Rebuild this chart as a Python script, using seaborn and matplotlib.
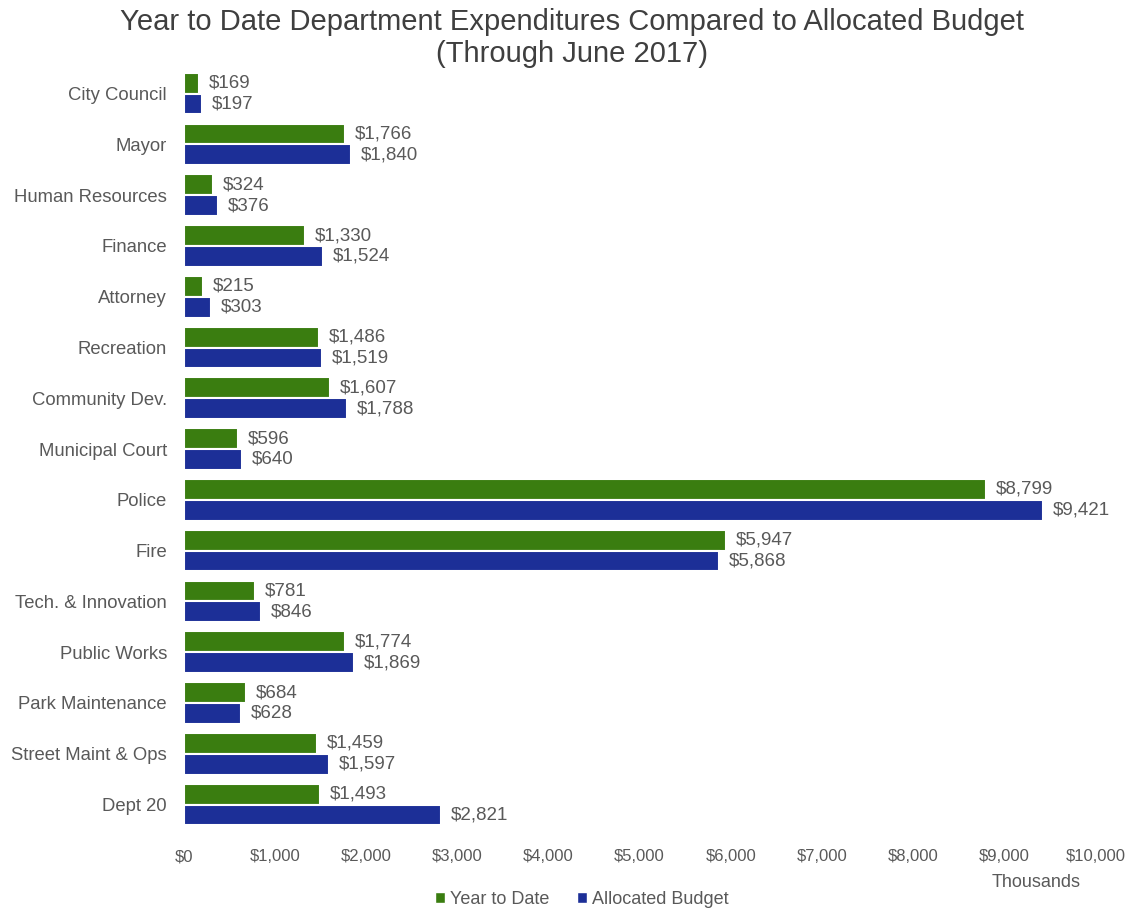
import matplotlib
matplotlib.use("Agg")
import matplotlib.pyplot as plt
import seaborn as sns
import pandas as pd
from matplotlib.patches import Patch

departments = ["City Council", "Mayor", "Human Resources", "Finance", "Attorney",
               "Recreation", "Community Dev.", "Municipal Court", "Police", "Fire",
               "Tech. & Innovation", "Public Works", "Park Maintenance",
               "Street Maint & Ops", "Dept 20"]
year_to_date = [169, 1766, 324, 1330, 215, 1486, 1607, 596, 8799, 5947, 781, 1774, 684, 1459, 1493]
allocated_budget = [197, 1840, 376, 1524, 303, 1519, 1788, 640, 9421, 5868, 846, 1869, 628, 1597, 2821]
series_names = ["Year to Date", "Allocated Budget"]
x_ticks = [0, 1000, 2000, 3000, 4000, 5000, 6000, 7000, 8000, 9000, 10000]

GREEN = "#3A7D10"
BLUE = "#1C2F97"
TEXT = "#595959"

df = pd.DataFrame({
    "Department": departments * 2,
    "Value": year_to_date + allocated_budget,
    "Series": [series_names[0]] * len(departments) + [series_names[1]] * len(departments),
})

sns.set_theme(style="white")
plt.rcParams["font.family"] = ["Liberation Sans", "DejaVu Sans"]

fig = plt.figure(figsize=(11.34, 9.10), dpi=100)
ax = fig.add_axes([0.162, 0.088, 0.804, 0.837])

sns.barplot(data=df, y="Department", x="Value", hue="Series", order=departments,
            hue_order=series_names, palette=[GREEN, BLUE], orient="h",
            width=0.82, ax=ax, legend=False, saturation=1,
            edgecolor="white", linewidth=1.5)

for cont in ax.containers:
    ax.bar_label(cont, labels=[f"${v:,.0f}" for v in cont.datavalues],
                 padding=7, fontsize=13.5, color=TEXT)

ax.set_xlim(0, 10000)
ax.set_ylim(len(departments) - 0.5, -0.5)
ax.set_xticks(x_ticks)
ax.set_xticklabels([f"${t:,}" for t in x_ticks], fontsize=12, color=TEXT)
ax.tick_params(axis="y", labelsize=13.3, labelcolor=TEXT, length=0, pad=12)
ax.tick_params(axis="x", length=0, pad=14)
ax.set_xlabel("")
ax.set_ylabel("")
for s in ax.spines.values():
    s.set_visible(False)

fig.text(0.504, 0.958, "Year to Date Department Expenditures Compared to Allocated Budget\n(Through June 2017)",
         ha="center", va="center", fontsize=21, color="#3f3f3f", linespacing=1.2)
fig.text(0.914, 0.030, "Thousands", ha="center", va="center", fontsize=13, color=TEXT)

handles = [Patch(facecolor=GREEN, label=series_names[0]), Patch(facecolor=BLUE, label=series_names[1])]
fig.legend(handles=handles, loc="center", bbox_to_anchor=(0.513, 0.012), ncol=2, frameon=False,
           fontsize=13, labelcolor=TEXT, handlelength=0.55, handleheight=0.55, handletextpad=0.3,
           columnspacing=1.5)

fig.savefig("out.png", dpi=100)
